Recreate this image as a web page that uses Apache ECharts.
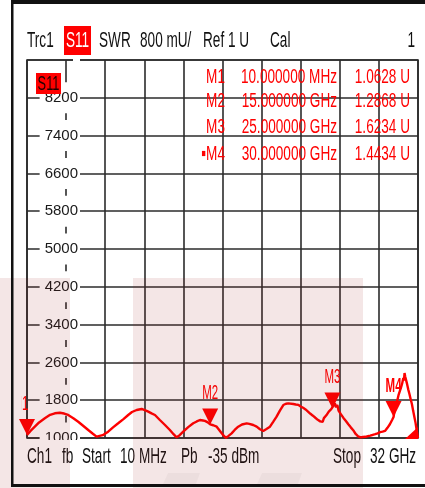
<!DOCTYPE html>
<html><head><meta charset="utf-8">
<script src="https://cdn.jsdelivr.net/npm/echarts@6/dist/echarts.min.js"></script>
<style>html,body{margin:0;padding:0;background:#fff}#c{width:425px;height:488px}</style>
</head><body><div id="c"></div>
<script>
// ---- data ----
const freqGHz = [
  0.01,0.3,0.65,1.0,1.47,1.9,2.29,2.7,3.05,3.38,3.8,4.2,4.6,5.02,5.4,5.7,5.84,6.2,6.65,7.05,
  7.47,7.9,8.29,8.6,8.98,9.39,9.65,9.93,10.2,10.48,10.88,11.3,11.7,12.0,12.25,12.5,12.79,13.2,13.61,13.9,
  14.16,14.4,14.57,14.8,15.0,15.25,15.53,15.94,16.1,16.29,16.5,16.75,17.0,17.29,17.6,17.98,18.2,18.52,18.8,19.07,
  19.34,19.6,19.89,20.15,20.43,20.7,20.98,21.2,21.39,21.52,21.8,
  22.0,22.1,22.2,22.3,22.4,22.5,22.6,22.7,22.8,22.9,23.0,23.1,23.2,23.3,23.4,23.5,23.6,23.7,23.8,23.9,
  24.0,24.1,24.2,24.3,24.4,24.5,24.6,24.7,24.8,24.9,25.0,25.1,25.2,25.3,25.4,25.5,25.6,25.7,25.8,25.9,
  26.0,26.1,26.2,26.3,26.4,26.5,26.6,26.7,26.8,26.9,27.0,27.1,27.2,27.3,27.4,27.5,27.6,27.7,27.8,27.9,
  28.0,28.1,28.2,28.3,28.4,28.5,28.6,28.7,28.8,28.9,29.0,29.1,29.2,29.3,29.4,29.5,29.6,29.7,29.8,29.9,
  30.0,30.1,30.2,30.3,30.4,30.5,30.6,30.7,30.75,30.8,30.85,30.9,30.95,31.0,31.1,31.2,31.3,31.4,31.5,31.6,
  31.7,31.8,31.9,32.0
];
const swrMilliU = [
  1063,1150,1239,1330,1417,1490,1523,1535,1518,1487,1420,1345,1260,1169,1090,1028,1006,1060,1133,1225,
  1311,1400,1487,1550,1593,1614,1590,1557,1520,1487,1381,1275,1169,1080,1015,1060,1133,1230,1311,1350,
  1381,1370,1362,1330,1287,1270,1239,1099,1050,1005,1045,1099,1170,1239,1285,1311,1300,1275,1240,1184,
  1148,1190,1239,1340,1451,1580,1698,1725,1734,1738,1720,
  1710,1690,1702,1675,1668,1652,1640,1612,1605,1572,1560,1548,1512,1500,1472,1462,1428,1420,1385,1395,
  1352,1378,1340,1420,1395,1480,1455,1560,1520,1610,1623,1690,1734,1650,1700,1580,1560,1500,1470,1425,
  1395,1360,1330,1290,1268,1225,1212,1165,1140,1085,1070,1035,1050,1012,1040,1020,1055,1025,1060,1038,
  1072,1050,1085,1068,1100,1082,1115,1098,1140,1125,1160,1135,1175,1150,1190,1215,1235,1290,1330,1390,
  1443,1600,1720,1790,1900,1980,2060,2150,2110,2270,2220,2376,2300,2320,2150,2030,1930,1820,1720,1580,
  1450,1320,1150,1000
];
const markerNames = ['M1','M2','M3','M4'];
const markerFreqGHz = [0.01, 15, 25, 30];
const markerSwrMilliU = [1062.8, 1286.8, 1623.4, 1443.4];
const activeMarker = 'M4';
const headerTexts = ['Trc1','S11','SWR','800 mU/','Ref 1 U','Cal','1'];
const footerTexts = ['Ch1','fb','Start','10 MHz','Pb','-35 dBm','Stop','32 GHz'];
const yMin = 1000, yMax = 9000, yStep = 800;      // mU
const xStartMHz = 10, xStopMHz = 32000, xDivisions = 10;

// ---- chart ----
const FONT = "'Liberation Sans',Arial,sans-serif";
const RED = '#ff0000';
const LINE = '#2b2b2b';

function txt(text, x, y, opts) {
  opts = opts || {};
  return {
    type: 'text', x: x, y: y, z: opts.z || 20,
    scaleX: opts.scaleX || 0.8,
    scaleY: opts.scaleY || 1.3,
    style: {
      text: text, x: 0, y: 0,
      fill: opts.fill || '#111',
      font: (opts.weight || 'normal') + ' ' + (opts.size || 17) + 'px ' + FONT,
      textAlign: opts.align || 'left',
      textVerticalAlign: 'middle'
    }
  };
}
function fmtFreq(g) {
  return g < 1 ? (g * 1000).toFixed(6) + ' MHz' : g.toFixed(6) + ' GHz';
}

const graphics = [];
// header
graphics.push({type:'rect', z:15, shape:{x:64,y:26,width:27,height:29}, style:{fill:RED}});
graphics.push(txt(headerTexts[0], 27, 41));
graphics.push(txt(headerTexts[1], 77.5, 41, {align:'center', fill:'#fff'}));
graphics.push(txt(headerTexts[2], 99, 41));
graphics.push(txt(headerTexts[3], 140, 41));
graphics.push(txt(headerTexts[4], 203, 41));
graphics.push(txt(headerTexts[5], 270, 41));
graphics.push(txt(headerTexts[6], 415, 41, {align:'right'}));
// S11 tag in plot
graphics.push({type:'rect', z:15, shape:{x:36,y:73,width:25,height:21}, style:{fill:RED}});
graphics.push(txt('S11', 48.5, 84, {align:'center', fill:'#200', size:16, scaleY:1.25}));
// marker table
const rowY = [77, 101, 127.5, 154];
markerNames.forEach(function (n, i) {
  const nm = (n === activeMarker ? '\u25AA' : '') + n;
  graphics.push(txt(nm, 225, rowY[i], {align:'right', fill:RED, scaleY:1.23}));
  graphics.push(txt(fmtFreq(markerFreqGHz[i]), 337, rowY[i], {align:'right', fill:RED, scaleY:1.23}));
  graphics.push(txt((markerSwrMilliU[i] / 1000).toFixed(4) + ' U', 410, rowY[i], {align:'right', fill:RED, scaleY:1.23}));
});
// footer
const footX = [27, 62, 82, 120, 181, 208, 333, 370];
footerTexts.forEach(function (t, i) { graphics.push(txt(t, footX[i], 457.5, {scaleY:1.25})); });
// cover clipped parts (bottom of "1000", left of "M1")
graphics.push({type:'rect', z:30, shape:{x:40,y:440,width:40,height:8}, style:{fill:'#fff'}});
graphics.push({type:'rect', z:30, shape:{x:0,y:390,width:21.5,height:22}, style:{fill:'#fff'}});
// out-of-range indicator at lower right
graphics.push({type:'polygon', z:30, shape:{points:[[405,439],[418,427],[418,439]]}, style:{fill:RED}});
// faint watermark tint
graphics.push({type:'rect', z:50, shape:{x:0,y:278,width:70,height:210}, style:{fill:'rgba(155,30,30,0.11)'}});
graphics.push({type:'rect', z:50, shape:{x:133,y:278,width:230,height:210}, style:{fill:'rgba(155,30,30,0.11)'}});
graphics.push({type:'polygon', z:51, shape:{points:[[168,473],[200,473],[196,484],[163,484]]}, style:{fill:'rgba(0,0,0,0.03)'}});
graphics.push({type:'polygon', z:51, shape:{points:[[262,473],[302,473],[298,484],[257,484]]}, style:{fill:'rgba(0,0,0,0.03)'}});
// outer frame
graphics.push({type:'rect', z:60, shape:{x:11,y:0,width:414,height:4}, style:{fill:'#111'}});
graphics.push({type:'rect', z:60, shape:{x:11,y:0,width:2.5,height:487}, style:{fill:'#111'}});
graphics.push({type:'rect', z:60, shape:{x:11,y:484,width:414,height:3}, style:{fill:'#111'}});

const chart = echarts.init(document.getElementById('c'), null, {renderer:'canvas'});
const yCommon = {type:'value', min:yMin, max:yMax, interval:yStep, position:'left', offset:0};
chart.setOption({
  animation: false,
  backgroundColor: '#fff',
  grid: {left:27, right:7, top:60, bottom:50, show:true, borderColor:LINE, borderWidth:1.6, backgroundColor:'transparent'},
  xAxis: {
    type:'value', min:xStartMHz, max:xStopMHz, interval:(xStopMHz - xStartMHz) / xDivisions,
    axisLabel:{show:false}, axisTick:{show:false}, axisLine:{show:false},
    splitLine:{show:true, lineStyle:{color:LINE, width:1.6}}, z:0
  },
  yAxis: [
    Object.assign({}, yCommon, {
      axisLabel:{show:false}, axisTick:{show:false}, axisLine:{show:false},
      splitLine:{show:true, lineStyle:{color:LINE, width:1.6}}, z:0
    }),
    Object.assign({}, yCommon, {
      axisTick:{show:false}, axisLine:{show:false}, splitLine:{show:false}, z:1,
      axisLabel:{
        show:true, inside:true, margin:53, align:'right', verticalAlign:'middle',
        color:'#1a1a1a', fontFamily:FONT, fontSize:15, lineHeight:15,
        backgroundColor:'#fff', padding:[8,2,8,5],
        formatter: function (v) { return v >= yMax ? '' : String(v); }
      }
    })
  ],
  graphic: {elements: graphics},
  series: [
    {
      type:'line', yAxisIndex:0, z:2, showSymbol:false, symbol:'none',
      lineStyle:{color:RED, width:2.4}, clip:true,
      data: freqGHz.map(function (f, i) { return [f * 1000, swrMilliU[i]]; })
    },
    {
      type:'custom', yAxisIndex:0, z:3, clip:false,
      data: markerFreqGHz.map(function (f, i) { return [f * 1000, markerSwrMilliU[i]]; }),
      renderItem: function (params, api) {
        const p = api.coord([api.value(0), api.value(1)]);
        const name = markerNames[params.dataIndex];
        const first = params.dataIndex === 0;
        return {type:'group', children:[
          {type:'polygon', shape:{points:[[p[0]-8,p[1]-16],[p[0]+8,p[1]-16],[p[0],p[1]]]}, style:{fill:RED}},
          {type:'text', x: first ? p[0] + 1.5 : p[0], y: p[1] - 31, scaleX:0.82, scaleY:1.5,
           style:{text:name, x:0, y:0, fill:RED,
                  font:(name === activeMarker ? 'bold ' : '') + '14px ' + FONT,
                  textAlign: first ? 'right' : 'center', textVerticalAlign:'middle'}}
        ]};
      }
    }
  ]
});
</script>
</body></html>
